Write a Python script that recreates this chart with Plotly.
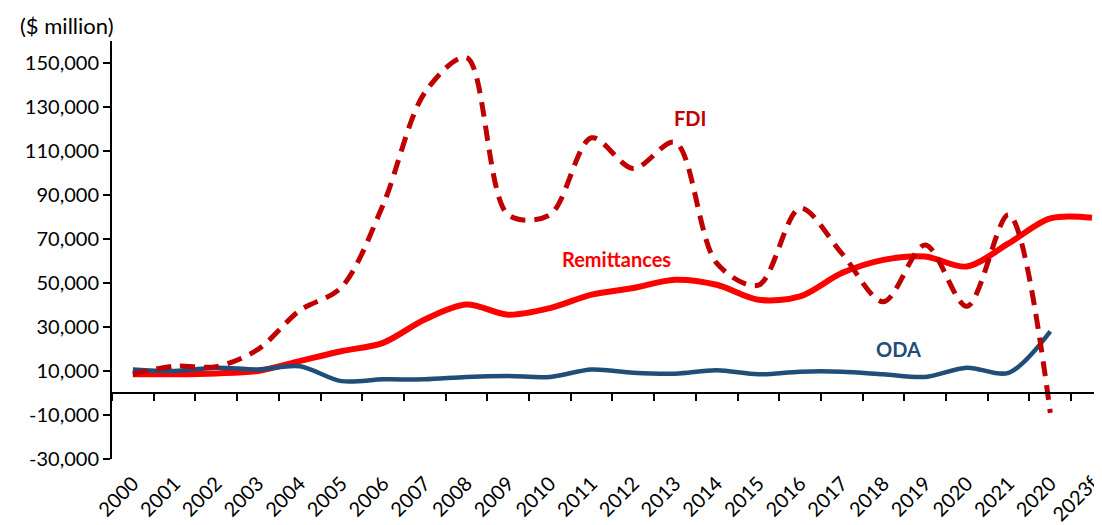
import plotly.graph_objects as go

years = ["2000", "2001", "2002", "2003", "2004", "2005", "2006", "2007", "2008", "2009",
         "2010", "2011", "2012", "2013", "2014", "2015", "2016", "2017", "2018", "2019",
         "2020", "2021", "2020", "2023f"]

fdi = [8500, 12200, 12000, 19800, 37500, 48000, 85500, 136500, 152500, 81000,
       81000, 116000, 102000, 114000, 59000, 49000, 84000, 63500, 41500, 67300,
       39400, 81000, -9000]

remittances = [8500, 8500, 8900, 10000, 14500, 19000, 22800, 33400, 40200, 35600,
               38600, 44700, 47700, 51500, 49200, 42400, 43900, 54500, 60500, 62000,
               57500, 68000, 79400, 79700]

oda = [10700, 10000, 11500, 10700, 12200, 5400, 6200, 6200, 7300, 7700,
       7300, 10700, 9200, 8800, 10300, 8500, 9700, 9700, 8500, 7300,
       11500, 9200, 28000]

y_ticks = list(range(-30000, 150001, 20000))
y_ticktext = [f"{v:,}" for v in y_ticks]

FONT = "Lato"
C_FDI = "#C00000"
C_REM = "#FF0000"
C_ODA = "#1F4E79"

fig = go.Figure()

fig.add_trace(go.Scatter(x=list(range(len(remittances))), y=remittances, mode="lines",
                         line=dict(color=C_REM, width=6, shape="spline", smoothing=0.9),
                         name="Remittances"))
fig.add_trace(go.Scatter(x=list(range(len(oda))), y=oda, mode="lines",
                         line=dict(color=C_ODA, width=4.5, shape="spline", smoothing=0.9),
                         name="ODA"))
fig.add_trace(go.Scatter(x=list(range(len(fdi))), y=fdi, mode="lines",
                         line=dict(color=C_FDI, width=5, dash="15px,9px", shape="spline", smoothing=0.9),
                         name="FDI"))

# invisible trace carrying the label axis
fig.add_trace(go.Scatter(x=[0], y=[0], xaxis="x2", yaxis="y", mode="markers",
                         marker=dict(opacity=0), showlegend=False, hoverinfo="skip"))

ymin, ymax = -30000, 160000
zero_frac = (0 - ymin) / (ymax - ymin)
xrange_ = [-0.5, 23.24]

fig.update_layout(
    width=1094, height=517,
    margin=dict(l=104, r=0, t=33, b=66),
    plot_bgcolor="white", paper_bgcolor="white",
    showlegend=False,
    font=dict(family=FONT, size=20, color="black"),
    xaxis=dict(
        range=xrange_, anchor="free", position=zero_frac, automargin=False,
        showline=True, linecolor="black", linewidth=2,
        showgrid=False, zeroline=False,
        tickvals=list(range(len(years))), showticklabels=False, ticks="",
        minor=dict(tick0=-0.5, dtick=1, ticks="outside", ticklen=7, tickwidth=2,
                   tickcolor="black", showgrid=False),
    ),
    xaxis2=dict(
        range=xrange_, overlaying="x", anchor="y", side="bottom", automargin=False,
        showline=False, showgrid=False, zeroline=False, ticks="",
        tickmode="array", tickvals=list(range(len(years))), ticktext=years,
        tickangle=-45, ticklabelstandoff=8,
        tickfont=dict(family=FONT, size=20, color="black"),
    ),
    yaxis=dict(
        range=[ymin, ymax], automargin=False,
        showline=True, linecolor="black", linewidth=2,
        showgrid=False, zeroline=False,
        tickmode="array", tickvals=y_ticks, ticktext=y_ticktext,
        ticks="outside", ticklen=7, tickwidth=2, tickcolor="black",
        tickfont=dict(family=FONT, size=20, color="black"),
    ),
)

fig.add_annotation(text="($ million)", xref="paper", yref="paper", x=-0.095, y=1.0,
                   xanchor="left", yanchor="bottom", showarrow=False,
                   font=dict(family=FONT, size=22, color="black"), yshift=0)
fig.add_annotation(text="<b>FDI</b>", x=13.35, y=125000, showarrow=False,
                   font=dict(family=FONT, size=20, color=C_FDI))
fig.add_annotation(text="<b>Remittances</b>", x=11.6, y=61000, showarrow=False,
                   font=dict(family=FONT, size=20, color=C_REM))
fig.add_annotation(text="<b>ODA</b>", x=18.35, y=20000, showarrow=False,
                   font=dict(family=FONT, size=20, color=C_ODA))

fig.write_html("out.html")
